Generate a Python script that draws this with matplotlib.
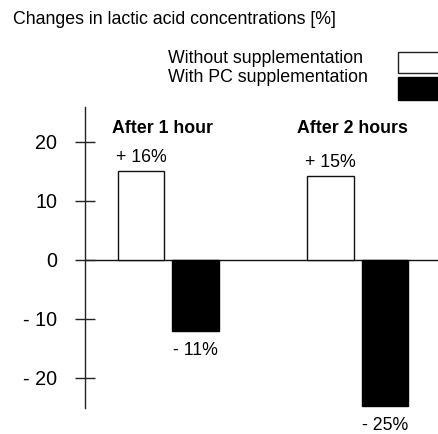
import numpy as np
import matplotlib.pyplot as plt
from matplotlib.patches import Rectangle

plt.rcParams['font.family'] = ['Liberation Sans', 'DejaVu Sans']

# data
groups = ['After 1 hour', 'After 2 hours']
without_supp = [15.0, 14.2]
with_pc = [-12.0, -24.7]
without_labels = ['+ 16%', '+ 15%']
with_labels = ['- 11%', '- 25%']
yticks = [-20, -10, 0, 10, 20]
ytick_labels = ['- 20', '- 10', '0', '10', '20']

fig = plt.figure(figsize=(4.39, 4.34), dpi=100)
ax = fig.add_axes([0.1936, 0.0599, 0.8064, 0.6935])

x = np.arange(len(groups))
w = 0.245
off = 0.144
ax.bar(x - off, without_supp, w, color='white', edgecolor='#111111', linewidth=1)
ax.bar(x + off, with_pc, w, color='black', edgecolor='black', linewidth=1)
ax.axhline(0, color='#111111', lw=1, zorder=0)

ax.set_xlim(-0.439, 1.429)
ax.set_ylim(-25.1, 25.9)

# group headers and value labels
for i, g in enumerate(groups):
    ax.text(x[i] - 0.03, 21.5, g, ha='center', va='baseline',
            fontsize=12.8, fontweight='bold')
    ax.text(x[i] - off, without_supp[i] + 1.6, without_labels[i],
            ha='center', va='baseline', fontsize=12.8, clip_on=False)
    ax.text(x[i] + off, with_pc[i] - 4.1, with_labels[i],
            ha='center', va='baseline', fontsize=12.8, clip_on=False)

# axis look
for s in ['top', 'right', 'bottom']:
    ax.spines[s].set_visible(False)
ax.spines['left'].set_color('#222222')
ax.spines['left'].set_linewidth(1)
ax.set_xticks([])
ax.set_yticks(yticks)
ax.set_yticklabels(ytick_labels, fontsize=14.2)
ax.tick_params(axis='y', direction='inout', length=13.7, width=1,
               color='#222222', pad=13)

# title and hand made legend
fig.text(0.0296, 0.9447, 'Changes in lactic acid concentrations [%]',
         fontsize=12.8, va='baseline')
fig.text(0.3827, 0.8548, 'Without supplementation', fontsize=12.8, va='baseline')
fig.text(0.3827, 0.8111, 'With PC supplementation', fontsize=12.8, va='baseline')
fig.patches.append(Rectangle((0.9066, 0.8318), 0.2, 0.0484, transform=fig.transFigure,
                             facecolor='white', edgecolor='#222222', lw=1))
fig.patches.append(Rectangle((0.9066, 0.7696), 0.2, 0.053, transform=fig.transFigure,
                             facecolor='black', edgecolor='black', lw=1))

fig.savefig('out.png', dpi=100)
